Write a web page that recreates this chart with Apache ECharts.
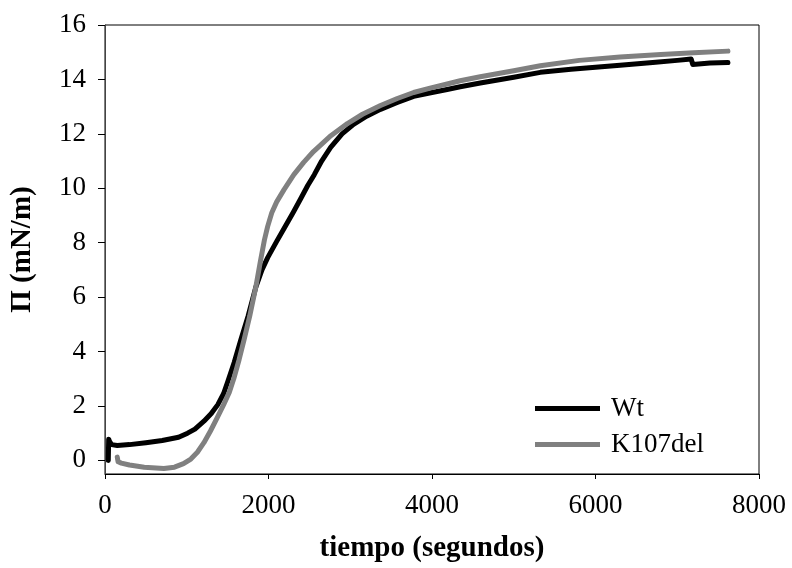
<!DOCTYPE html>
<html>
<head>
<meta charset="utf-8">
<script src="https://cdn.jsdelivr.net/npm/echarts@6/dist/echarts.min.js"></script>
<style>html,body{margin:0;padding:0;background:#fff;}#c{width:792px;height:568px;}</style>
</head>
<body>
<div id="c"></div>
<script>
const seriesNames = ['Wt', 'K107del'];
const xTicks = [0, 2000, 4000, 6000, 8000];
const yTicks = [0, 2, 4, 6, 8, 10, 12, 14, 16];
const wtData = [
  [40,0],[45,0.05],[45,0.78],[55,0.7],[80,0.58],[150,0.55],[300,0.58],[500,0.65],[700,0.73],[900,0.85],
  [1010,1.0],[1100,1.15],[1210,1.44],[1300,1.72],[1380,2.05],[1450,2.45],[1500,2.88],[1580,3.6],[1660,4.42],
  [1750,5.3],[1845,6.37],[1920,7.0],[1990,7.45],[2100,8.05],[2190,8.52],[2300,9.1],[2400,9.65],[2480,10.1],
  [2560,10.5],[2650,11.0],[2760,11.5],[2900,12.0],[3040,12.35],[3200,12.65],[3370,12.9],[3575,13.15],
  [3775,13.38],[4000,13.52],[4185,13.63],[4345,13.73],[4590,13.87],[5000,14.08],[5325,14.26],[5700,14.37],
  [6000,14.45],[6300,14.52],[6700,14.62],[7000,14.7],[7170,14.75],[7190,14.55],[7400,14.6],[7620,14.62]
];
const k107Data = [
  [150,0.12],[160,-0.05],[200,-0.1],[300,-0.17],[480,-0.25],[720,-0.3],[850,-0.25],[960,-0.12],[1050,0.05],
  [1130,0.3],[1210,0.65],[1290,1.08],[1370,1.55],[1450,2.04],[1520,2.5],[1575,3.0],[1640,3.7],[1700,4.42],
  [1770,5.3],[1845,6.37],[1900,7.3],[1950,8.1],[1990,8.6],[2040,9.1],[2100,9.5],[2190,9.95],[2310,10.5],
  [2430,10.95],[2550,11.35],[2750,11.9],[2965,12.38],[3150,12.72],[3370,13.04],[3575,13.3],[3775,13.52],
  [4000,13.7],[4185,13.83],[4345,13.95],[4590,14.1],[5000,14.32],[5325,14.5],[5800,14.7],[6300,14.82],
  [6800,14.92],[7200,14.98],[7620,15.04]
];

const chart = echarts.init(document.getElementById('c'), null, {renderer: 'canvas'});
const font = 'Liberation Serif';
chart.setOption({
  animation: false,
  backgroundColor: '#fff',
  grid: {left: 104, right: 33, top: 25, bottom: 83, show: true, borderColor: '#000', borderWidth: 1, containLabel: false},
  legend: {
    data: seriesNames,
    left: 530, top: 390, orient: 'vertical', itemGap: 9,
    icon: 'rect', itemWidth: 65, itemHeight: 5,
    textStyle: {fontFamily: font, fontSize: 27, color: '#000', padding: [0,0,0,6]}
  },
  xAxis: {
    type: 'value', min: 0, max: 8000, interval: 2000,
    name: 'tiempo (segundos)', nameLocation: 'middle', nameGap: 60,
    nameTextStyle: {fontFamily: font, fontSize: 29, fontWeight: 'bold', color: '#000'},
    axisLine: {onZero: false, lineStyle: {color: '#000', width: 1}},
    axisTick: {show: true, inside: false, length: 5, lineStyle: {color: '#000'}, customValues: xTicks},
    axisLabel: {fontFamily: font, fontSize: 27, color: '#000', margin: 18, customValues: xTicks,
                formatter: function (v) { return String(v); }},
    splitLine: {show: false}
  },
  yAxis: {
    type: 'value', min: -0.5, max: 16,
    name: 'Π (mN/m)', nameLocation: 'middle', nameGap: 68, nameRotate: 90,
    nameTextStyle: {fontFamily: font, fontSize: 29, fontWeight: 'bold', color: '#000'},
    axisLine: {show: true, onZero: false, lineStyle: {color: '#444', width: 1}},
    axisTick: {show: true, inside: false, length: 7, lineStyle: {color: '#000'}, customValues: yTicks},
    axisLabel: {fontFamily: font, fontSize: 27, color: '#000', margin: 19, customValues: yTicks},
    splitLine: {show: false}
  },
  series: [
    {name: seriesNames[0], type: 'line', data: wtData, showSymbol: false, symbol: 'none', smooth: false,
     color: '#000', lineStyle: {width: 5, color: '#000', cap: 'round', join: 'round'}},
    {name: seriesNames[1], type: 'line', data: k107Data, showSymbol: false, symbol: 'none', smooth: false,
     color: '#808080', lineStyle: {width: 5, color: '#808080', cap: 'round', join: 'round'}}
  ]
});
</script>
</body>
</html>
